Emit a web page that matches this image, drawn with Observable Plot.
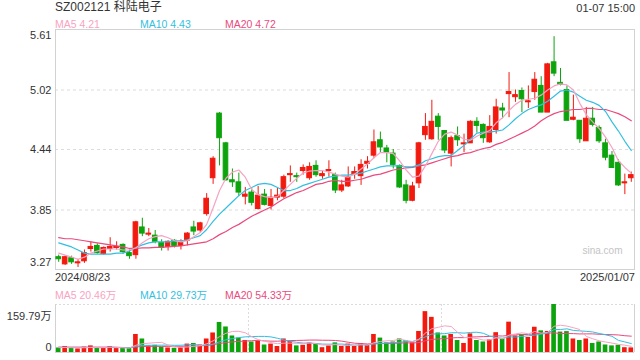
<!DOCTYPE html>
<html><head><meta charset="utf-8">
<script src="https://cdn.jsdelivr.net/npm/d3@7"></script>
<script src="https://cdn.jsdelivr.net/npm/@observablehq/plot@0.6"></script>
<style>
body{margin:0;background:#fff;}
#wrap{position:relative;width:640px;height:360px;font-family:Arial,"Liberation Sans","Noto Sans CJK SC",sans-serif;color:#333;overflow:hidden;background:#fff}
.t{position:absolute;white-space:nowrap;line-height:1}
#wrap svg{position:absolute;left:0}
</style></head><body><div id="wrap"></div><script>
// ---- data ----
const title = "SZ002121 科陆电子";
const stamp = "01-07 15:00";
const startDate = "2024/08/23", endDate = "2025/01/07";
const priceTicks = [3.27, 3.85, 4.44, 5.02, 5.61];
const priceTickLabels = ["3.27", "3.85", "4.44", "5.02", "5.61"];
const volMax = 159.79;
const volTickLabels = ["159.79万", "0"];
const maLabels = ["MA5 4.21", "MA10 4.43", "MA20 4.72"];
const volMaLabels = ["MA5 20.46万", "MA10 29.73万", "MA20 54.33万"];

const opens = [3.39,3.32,3.38,3.33,3.35,3.47,3.50,3.42,3.47,3.48,
3.51,3.43,3.41,3.68,3.61,3.60,3.53,3.49,3.55,3.50,
3.55,3.68,3.65,3.81,4.16,4.79,4.50,4.14,4.12,3.98,
4.02,3.86,4.00,3.89,3.97,3.98,4.19,4.18,4.23,4.16,
4.28,4.18,4.23,4.19,4.04,4.08,4.20,4.18,4.30,4.38,
4.53,4.45,4.40,4.28,4.09,3.94,4.11,4.58,4.54,4.76,
4.62,4.40,4.57,4.49,4.50,4.71,4.68,4.51,4.63,4.84,
4.98,4.95,5.01,4.90,5.00,5.06,4.80,5.29,5.09,5.02,
4.73,4.72,4.52,4.74,4.65,4.50,4.38,4.31,4.11,4.16];
const closes = [3.37,3.39,3.34,3.34,3.43,3.49,3.43,3.48,3.49,3.49,
3.44,3.40,3.73,3.62,3.62,3.54,3.48,3.54,3.50,3.54,
3.62,3.64,3.72,3.96,4.35,4.55,4.14,4.12,4.02,4.00,
3.92,3.99,3.90,3.97,3.99,4.17,4.20,4.17,4.26,4.27,
4.19,4.20,4.24,4.04,4.09,4.17,4.22,4.29,4.32,4.51,
4.46,4.41,4.29,4.07,3.94,4.08,4.50,4.66,4.71,4.66,
4.43,4.55,4.53,4.50,4.71,4.67,4.55,4.66,4.85,4.82,
5.00,4.97,4.93,4.91,5.12,4.80,5.27,5.18,5.07,4.72,
4.75,4.54,4.74,4.68,4.52,4.36,4.26,4.09,4.12,4.19];
const highs = [3.41,3.40,3.40,3.37,3.46,3.54,3.52,3.49,3.58,3.54,
3.52,3.46,3.74,3.77,3.67,3.65,3.56,3.55,3.56,3.56,
3.63,3.74,3.73,4.01,4.37,4.80,4.51,4.25,4.21,4.07,
4.06,4.08,4.05,4.05,4.06,4.19,4.28,4.21,4.29,4.31,
4.33,4.23,4.33,4.21,4.14,4.27,4.27,4.34,4.37,4.63,
4.61,4.48,4.44,4.29,4.14,4.12,4.51,4.79,4.92,4.79,
4.62,4.57,4.66,4.59,4.72,4.75,4.69,4.77,4.93,4.89,
5.19,5.02,5.04,5.06,5.19,5.15,5.28,5.54,5.23,5.06,
4.97,4.72,4.85,4.85,4.67,4.54,4.42,4.34,4.20,4.22];
const lows = [3.34,3.31,3.32,3.29,3.33,3.44,3.42,3.41,3.44,3.46,
3.42,3.37,3.37,3.59,3.59,3.52,3.45,3.45,3.48,3.46,
3.50,3.60,3.63,3.79,4.10,4.28,4.13,4.07,3.98,3.90,
3.89,3.85,3.89,3.85,3.94,3.96,4.12,4.12,4.19,4.14,
4.17,4.15,4.17,4.01,4.02,4.07,4.15,4.09,4.25,4.35,
4.41,4.31,4.25,4.06,3.91,3.93,4.06,4.53,4.53,4.53,
4.40,4.27,4.47,4.41,4.50,4.60,4.50,4.50,4.59,4.74,
4.75,4.90,4.80,4.84,4.92,4.80,4.80,5.15,5.06,4.72,
4.72,4.50,4.52,4.66,4.50,4.33,4.26,4.08,4.00,4.12];
const ma5 = [3.43,3.41,3.39,3.37,3.39,3.43,3.45,3.47,3.47,3.47,
3.46,3.46,3.48,3.53,3.57,3.59,3.60,3.58,3.55,3.54,
3.55,3.59,3.63,3.71,3.87,4.04,4.16,4.22,4.24,4.17,
4.05,4.00,3.98,3.97,3.98,4.04,4.10,4.16,4.21,4.23,
4.235,4.235,4.22,4.20,4.18,4.17,4.20,4.25,4.30,4.36,
4.41,4.41,4.40,4.33,4.24,4.17,4.18,4.28,4.40,4.52,
4.59,4.61,4.58,4.54,4.53,4.57,4.60,4.625,4.70,4.75,
4.82,4.88,4.92,4.93,4.94,4.97,5.02,5.06,5.08,5.07,
5.02,4.89,4.78,4.71,4.645,4.56,4.46,4.33,4.265,4.21];
const ma10 = [3.53,3.51,3.49,3.46,3.43,3.42,3.42,3.42,3.42,3.43,
3.43,3.45,3.485,3.51,3.53,3.54,3.54,3.54,3.55,3.55,
3.56,3.58,3.60,3.66,3.74,3.81,3.87,3.93,3.99,4.04,
4.07,4.10,4.11,4.10,4.07,4.04,4.04,4.06,4.09,4.11,
4.13,4.15,4.17,4.18,4.19,4.19,4.20,4.21,4.23,4.25,
4.27,4.28,4.28,4.28,4.27,4.27,4.29,4.33,4.35,4.37,
4.38,4.38,4.43,4.48,4.54,4.60,4.61,4.61,4.62,4.63,
4.68,4.74,4.79,4.83,4.855,4.875,4.91,4.96,5.01,5.02,
5.00,4.96,4.92,4.90,4.87,4.81,4.71,4.62,4.52,4.43];
const ma20 = [3.58,3.57,3.57,3.56,3.55,3.54,3.53,3.52,3.51,3.50,
3.49,3.475,3.475,3.48,3.48,3.485,3.485,3.49,3.495,3.50,
3.51,3.52,3.53,3.54,3.57,3.61,3.64,3.68,3.71,3.75,
3.79,3.82,3.85,3.88,3.92,3.96,3.99,4.02,4.04,4.07,
4.10,4.11,4.13,4.14,4.13,4.13,4.14,4.15,4.17,4.19,
4.20,4.22,4.24,4.25,4.26,4.265,4.28,4.29,4.31,4.33,
4.35,4.37,4.38,4.40,4.41,4.43,4.45,4.46,4.49,4.51,
4.54,4.57,4.60,4.63,4.67,4.72,4.76,4.79,4.81,4.82,
4.83,4.83,4.84,4.84,4.83,4.83,4.81,4.79,4.76,4.72];
const vols = [15,20,14,12,18,22,16,14,20,13,
15,13,60,45,22,24,18,15,14,16,
28,30,25,45,65,100,85,55,48,40,
35,38,25,28,20,45,38,22,24,32,
30,16,22,32,20,28,20,30,25,60,
48,32,35,45,40,32,70,136,117,65,
55,60,40,30,62,40,35,42,66,45,
101,55,60,50,84,72,70,159.79,68,69.5,
45,40,45,30,35,25,22,24,16,15.3];
const vma5 = [16,17,16,16,15.8,17.2,16.4,16.4,18,17,
15.6,15,24.2,29.2,31,32.8,33.8,24.8,18.6,17.4,
18.2,20.6,22.6,28.8,38.6,53,64,70,70.6,65.6,
52.6,43.2,37.2,33.2,29.2,31.2,31.2,30.6,29.8,32.2,
29.2,24.8,24.8,26.4,24,23.6,24.4,26,24.6,32.6,
36.6,39,40,44,40,36.8,44.4,64.6,79,84,
88.6,86.6,67.4,50,49.4,46.4,41.4,41.8,49,45.6,
57.8,61.8,65.4,62.2,70,64.2,67.2,87.2,90.8,87.9,
82.5,76.5,53.5,45.9,39,35,31.4,27.2,24.4,20.46];
const vma10 = [17,17,16.5,16.5,16.5,16.5,16.2,16.2,17,16.4,
16.4,15.7,20.3,23.6,24,24.2,24.4,24.5,23.9,24.2,
25.5,27.2,23.7,23.7,28,35.6,42.3,46.3,49.7,52.1,
52.8,53.6,53.6,51.9,47.4,41.9,37.2,33.9,31.5,30.7,
30.2,28,27.7,28.1,28.1,26.4,24.6,25.4,25.5,28.3,
30.1,31.7,33,34.3,36.3,36.7,41.7,52.3,61.5,62,
62.7,65.5,66,64.5,66.7,67.5,64,54.6,49.5,47.5,
52.1,51.6,53.6,55.6,57.8,61,64.5,76.3,76.5,78.9,
73.4,71.9,70.4,68.4,63.5,58.8,54,40.4,35.2,29.73];
const vma20 = [18,18,18,18,18,18,18,18,18,17.5,
16.7,16.4,18.4,20,20.3,20.4,20.3,20.4,20.5,20.3,
21,21.5,22,23.7,26,29.9,33.4,35.4,36.8,38.2,
39.2,40.4,38.7,37.8,37.7,38.8,39.8,40.1,40.6,41.4,
41.5,40.8,40.7,40,37.8,34.2,30.9,29.7,28.5,29.5,
30.2,29.9,30.4,31.2,32.2,31.6,33.2,38.9,43.5,45.2,
46.4,48.6,49.5,49.4,51.5,52.1,52.9,53.5,55.5,54.8,
57.4,58.6,59.8,60.1,62.3,64.3,64.3,65.5,63,63.2,
62.8,61.8,62,62,60.7,59.9,59.3,58.4,55.9,54.3];

// ---- styling ----
const RED = "#f2190e", GREEN = "#0ca30c";
const C5 = "#f7a3c2", C10 = "#33bfe0", C20 = "#ea4a7d";
const GRID = "#dcdcdc", FRAME = "#d2d2d2";
const FONT = 'Arial, "Liberation Sans", "Noto Sans CJK SC", sans-serif';

const N = closes.length;
const rows = d3.range(N).map(i => ({
  i, o: opens[i], h: highs[i], l: lows[i], c: closes[i],
  col: closes[i] >= opens[i] ? RED : GREEN,
  v: vols[i], m5: ma5[i], m10: ma10[i], m20: ma20[i],
  vm5: vma5[i], vm10: vma10[i], vm20: vma20[i]
}));
const xDom = [-0.5, N - 0.5];
const HW = 0.36;
const ticks = priceTicks.map((v, k) => ({v, t: priceTickLabels[k]}));

const main = Plot.plot({
  width: 640, height: 272,
  marginLeft: 55, marginRight: 6, marginTop: 29, marginBottom: 3,
  x: {domain: xDom, axis: null},
  y: {domain: [priceTicks[0], priceTicks[4]], axis: null},
  color: {type: "identity"},
  style: {fontFamily: FONT, fontSize: "11px", color: "#333", background: "transparent", overflow: "visible"},
  marks: [
    Plot.ruleY(ticks.slice(1, 4), {y: "v", stroke: GRID, strokeDasharray: "3,3"}),
    Plot.frame({stroke: FRAME}),
    Plot.text(["sina.com"], {frameAnchor: "bottom-right", dx: -12, dy: -16, text: d => d, fill: "#c4c4c4", fontSize: 10, textAnchor: "end"}),
    Plot.ruleX(rows, {x: "i", y1: "l", y2: "h", stroke: "col", strokeWidth: 1}),
    Plot.rect(rows, {x1: d => d.i - HW, x2: d => d.i + HW, y1: "o", y2: "c", fill: "col", stroke: "col", strokeWidth: 1}),
    Plot.line(rows, {x: "i", y: "m20", stroke: C20, strokeWidth: 1.2}),
    Plot.line(rows, {x: "i", y: "m10", stroke: C10, strokeWidth: 1.2}),
    Plot.line(rows, {x: "i", y: "m5", stroke: C5, strokeWidth: 1.2}),
    Plot.text(ticks.slice(4), {y: "v", text: "t", frameAnchor: "left", textAnchor: "end", dx: -4, dy: 6, fill: "#333"}),
    Plot.text(ticks.slice(1, 4), {y: "v", text: "t", frameAnchor: "left", textAnchor: "end", dx: -4, dy: 0, fill: "#333"}),
    Plot.text(ticks.slice(0, 1), {y: "v", text: "t", frameAnchor: "left", textAnchor: "end", dx: -4, dy: -7, fill: "#333"})
  ]
});
main.style.top = "0px";

const vol = Plot.plot({
  width: 640, height: 56,
  marginLeft: 55, marginRight: 6, marginTop: 4, marginBottom: 4,
  x: {domain: xDom, axis: null},
  y: {domain: [0, volMax], axis: null},
  color: {type: "identity"},
  style: {fontFamily: FONT, fontSize: "11px", color: "#333", background: "transparent", overflow: "visible"},
  marks: [
    Plot.ruleX([N / 3 - 0.5, 2 * N / 3 - 0.5], {stroke: GRID, strokeDasharray: "2,2"}),
    Plot.ruleY([volMax], {stroke: GRID, strokeDasharray: "2,2"}),
    Plot.ruleX(xDom, {stroke: FRAME}),
    Plot.ruleY([0], {stroke: FRAME}),
    Plot.rect(rows, {x1: d => d.i - HW, x2: d => d.i + HW, y1: 0, y2: "v", fill: "col"}),
    Plot.line(rows, {x: "i", y: "vm20", stroke: C20, strokeWidth: 1}),
    Plot.line(rows, {x: "i", y: "vm10", stroke: C10, strokeWidth: 1}),
    Plot.line(rows, {x: "i", y: "vm5", stroke: C5, strokeWidth: 1}),
    Plot.text([volTickLabels[0]], {frameAnchor: "top-left", text: d => d, textAnchor: "end", dx: -4, dy: 8, fill: "#333"}),
    Plot.text([volTickLabels[1]], {frameAnchor: "bottom-left", text: d => d, textAnchor: "end", dx: -4, dy: -2, fill: "#333"})
  ]
});
vol.style.top = "300px";

const wrap = document.getElementById("wrap");
wrap.appendChild(main);
wrap.appendChild(vol);

function label(txt, x, y, size, color, right) {
  const d = document.createElement("div");
  d.className = "t";
  d.textContent = txt;
  d.style.fontSize = size + "px";
  d.style.color = color;
  d.style.top = (y - size / 2) + "px";
  if (right) d.style.right = (640 - x) + "px"; else d.style.left = x + "px";
  wrap.appendChild(d);
}
label(title, 55, 7, 12, "#333");
label(stamp, 635, 8, 11, "#333", true);
const maCols = [C5, C10, C20], maX = [55, 140, 225];
maLabels.forEach((t, k) => label(t, maX[k], 24.5, 10.5, maCols[k]));
label(startDate, 55, 277, 11, "#333");
label(endDate, 635, 277, 11, "#333", true);
volMaLabels.forEach((t, k) => label(t, maX[k], 295, 10.5, maCols[k]));
</script></body></html>
